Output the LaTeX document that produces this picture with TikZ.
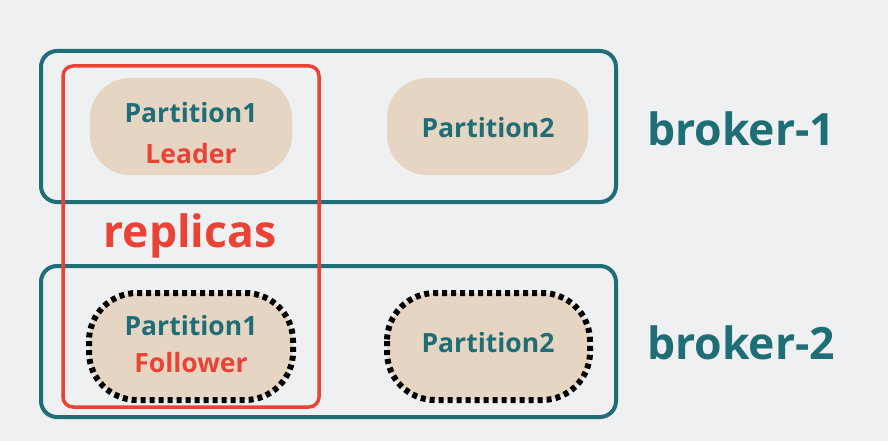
\documentclass[tikz,border=0pt]{standalone}
\usepackage{fontspec}
\setmainfont{Open Sans}[BoldFont={Open Sans Bold}]
\definecolor{bg}{HTML}{EEF0F2}
\definecolor{teal}{HTML}{1F6E76}
\definecolor{rd}{HTML}{EA4335}
\definecolor{beige}{HTML}{E6D5C2}
\begin{document}
\begin{tikzpicture}[x=1pt,y=-1pt,
  broker/.style={draw=teal,line width=4pt,rounded corners=16pt},
  part/.style={fill=beige,rounded corners=40pt},
  dots/.style={draw=black,line width=6pt,dash pattern=on 5pt off 4pt,rounded corners=48pt},
  ptxt/.style={text=teal,font=\bfseries\fontsize{26.5}{30}\selectfont,align=center},
  rtxt/.style={text=rd,font=\bfseries\fontsize{26.5}{30}\selectfont},
  btxt/.style={text=teal,font=\bfseries\fontsize{44.5}{50}\selectfont}]
\fill[bg] (0,0) rectangle (888,441);
\useasboundingbox (0,0) rectangle (888,441);
\draw[broker] (41,51) rectangle (616,202);
\draw[broker] (41,266) rectangle (616,417);
\path[part] (90,78) rectangle (292,175);
\path[part] (387,78) rectangle (588,175);
\path[part,dots] (89,293) rectangle (293,400);
\path[part,dots] (387,293) rectangle (590,400);
\draw[rd,line width=3.5pt,rounded corners=10pt] (63,66) rectangle (319,407);
\node[ptxt] (p1) at (191,113) {Partition1};
\node[rtxt] (l) at (191,154) {Leader};
\node[ptxt] (p2) at (488,128) {Partition2};
\node[ptxt] (p3) at (191,326) {Partition1};
\node[rtxt] (f) at (191,363) {Follower};
\node[ptxt] (p4) at (488,343) {Partition2};
\node[text=rd,font=\bfseries\fontsize{44.5}{50}\selectfont] (rep) at (190,236) {replicas};
\node[btxt] (b1) at (741,129) {broker-1};
\node[btxt] (b2) at (741,343) {broker-2};
\end{tikzpicture}
\end{document}
